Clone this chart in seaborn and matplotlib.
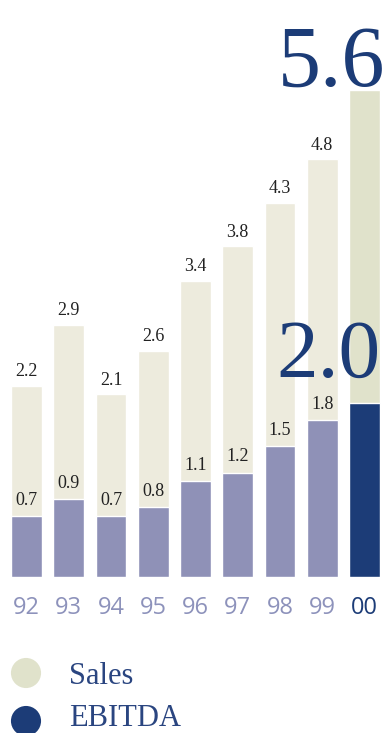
import matplotlib
matplotlib.use("Agg")
import matplotlib.pyplot as plt
import seaborn as sns
import pandas as pd

# Data (values in the chart's units)
years = ["92", "93", "94", "95", "96", "97", "98", "99", "00"]
sales = [2.2, 2.9, 2.1, 2.6, 3.4, 3.8, 4.3, 4.8, 5.6]
ebitda = [0.7, 0.9, 0.7, 0.8, 1.1, 1.2, 1.5, 1.8, 2.0]
legend_labels = ["Sales", "EBITDA"]

# Colours: past years muted, current year highlighted
SALES_PAST, SALES_NOW = "#edebdd", "#e0e2cb"
EBITDA_PAST, EBITDA_NOW = "#8f91b7", "#1c3c77"
NAVY = "#1c3c77"
TICK_PAST = "#8d92bb"
LABEL = "#222222"

sns.set_theme(style="white")
plt.rcParams["font.family"] = ["Liberation Serif", "DejaVu Serif"]

df = pd.DataFrame({"year": years, "sales": sales, "ebitda": ebitda})
n = len(years)
sales_pal = {y: (SALES_NOW if i == n - 1 else SALES_PAST) for i, y in enumerate(years)}
ebitda_pal = {y: (EBITDA_NOW if i == n - 1 else EBITDA_PAST) for i, y in enumerate(years)}

W, H = 392, 733
fig = plt.figure(figsize=(W / 100, H / 100), dpi=100)
base_px = 577
ax = fig.add_axes([5.4 / W, (H - base_px) / H, 380.2 / W, base_px / H])

sns.barplot(data=df, x="year", y="sales", hue="year", palette=sales_pal,
            legend=False, width=0.73, ax=ax, saturation=1)
sns.barplot(data=df, x="year", y="ebitda", hue="year", palette=ebitda_pal,
            legend=False, width=0.73, ax=ax, saturation=1)

ax.set_xlim(-0.5, n - 0.5)
ax.set_ylim(0, 6.63)
for s in ax.spines.values():
    s.set_visible(False)
ax.set_xlabel("")
ax.set_ylabel("")
ax.set_yticks([])
ax.set_xticks(range(n))
ax.set_xticklabels(years, family=["Open Sans", "DejaVu Sans"], fontsize=17)
ax.tick_params(axis="x", length=0, pad=14)
for i, t in enumerate(ax.get_xticklabels()):
    t.set_color(NAVY if i == n - 1 else TICK_PAST)

# Value labels for past years
for i in range(n - 1):
    ax.annotate(f"{sales[i]:.1f}", (i, sales[i]), xytext=(0, 7),
                textcoords="offset points", ha="center", va="baseline",
                fontsize=13, color=LABEL)
    ax.annotate(f"{ebitda[i]:.1f}", (i, ebitda[i]), xytext=(0, 8),
                textcoords="offset points", ha="center", va="baseline",
                fontsize=13, color=LABEL)

# Large labels for the current year
ax.annotate(f"{sales[-1]:.1f}", (n - 0.51, sales[-1]), xytext=(0, 3),
            textcoords="offset points", ha="right", va="baseline",
            fontsize=62, color=NAVY, annotation_clip=False)
ax.annotate(f"{ebitda[-1]:.1f}", (n - 0.63, ebitda[-1]), xytext=(0, 19),
            textcoords="offset points", ha="right", va="baseline",
            fontsize=60, color=NAVY, annotation_clip=False)

# Legend drawn in pixel space
lg = fig.add_axes([0, 0, 1, 1], facecolor="none")
lg.set_xlim(0, W)
lg.set_ylim(H, 0)
lg.axis("off")
lg.scatter([26, 26], [673, 721], s=470, c=[SALES_NOW, EBITDA_NOW],
           linewidths=0, clip_on=False)
lg.text(69, 684, legend_labels[0], fontsize=22, color="#2a4580", va="baseline")
lg.text(69, 726, legend_labels[1], fontsize=22, color="#2a4580", va="baseline")

fig.savefig("out.png", dpi=100, facecolor="white")
